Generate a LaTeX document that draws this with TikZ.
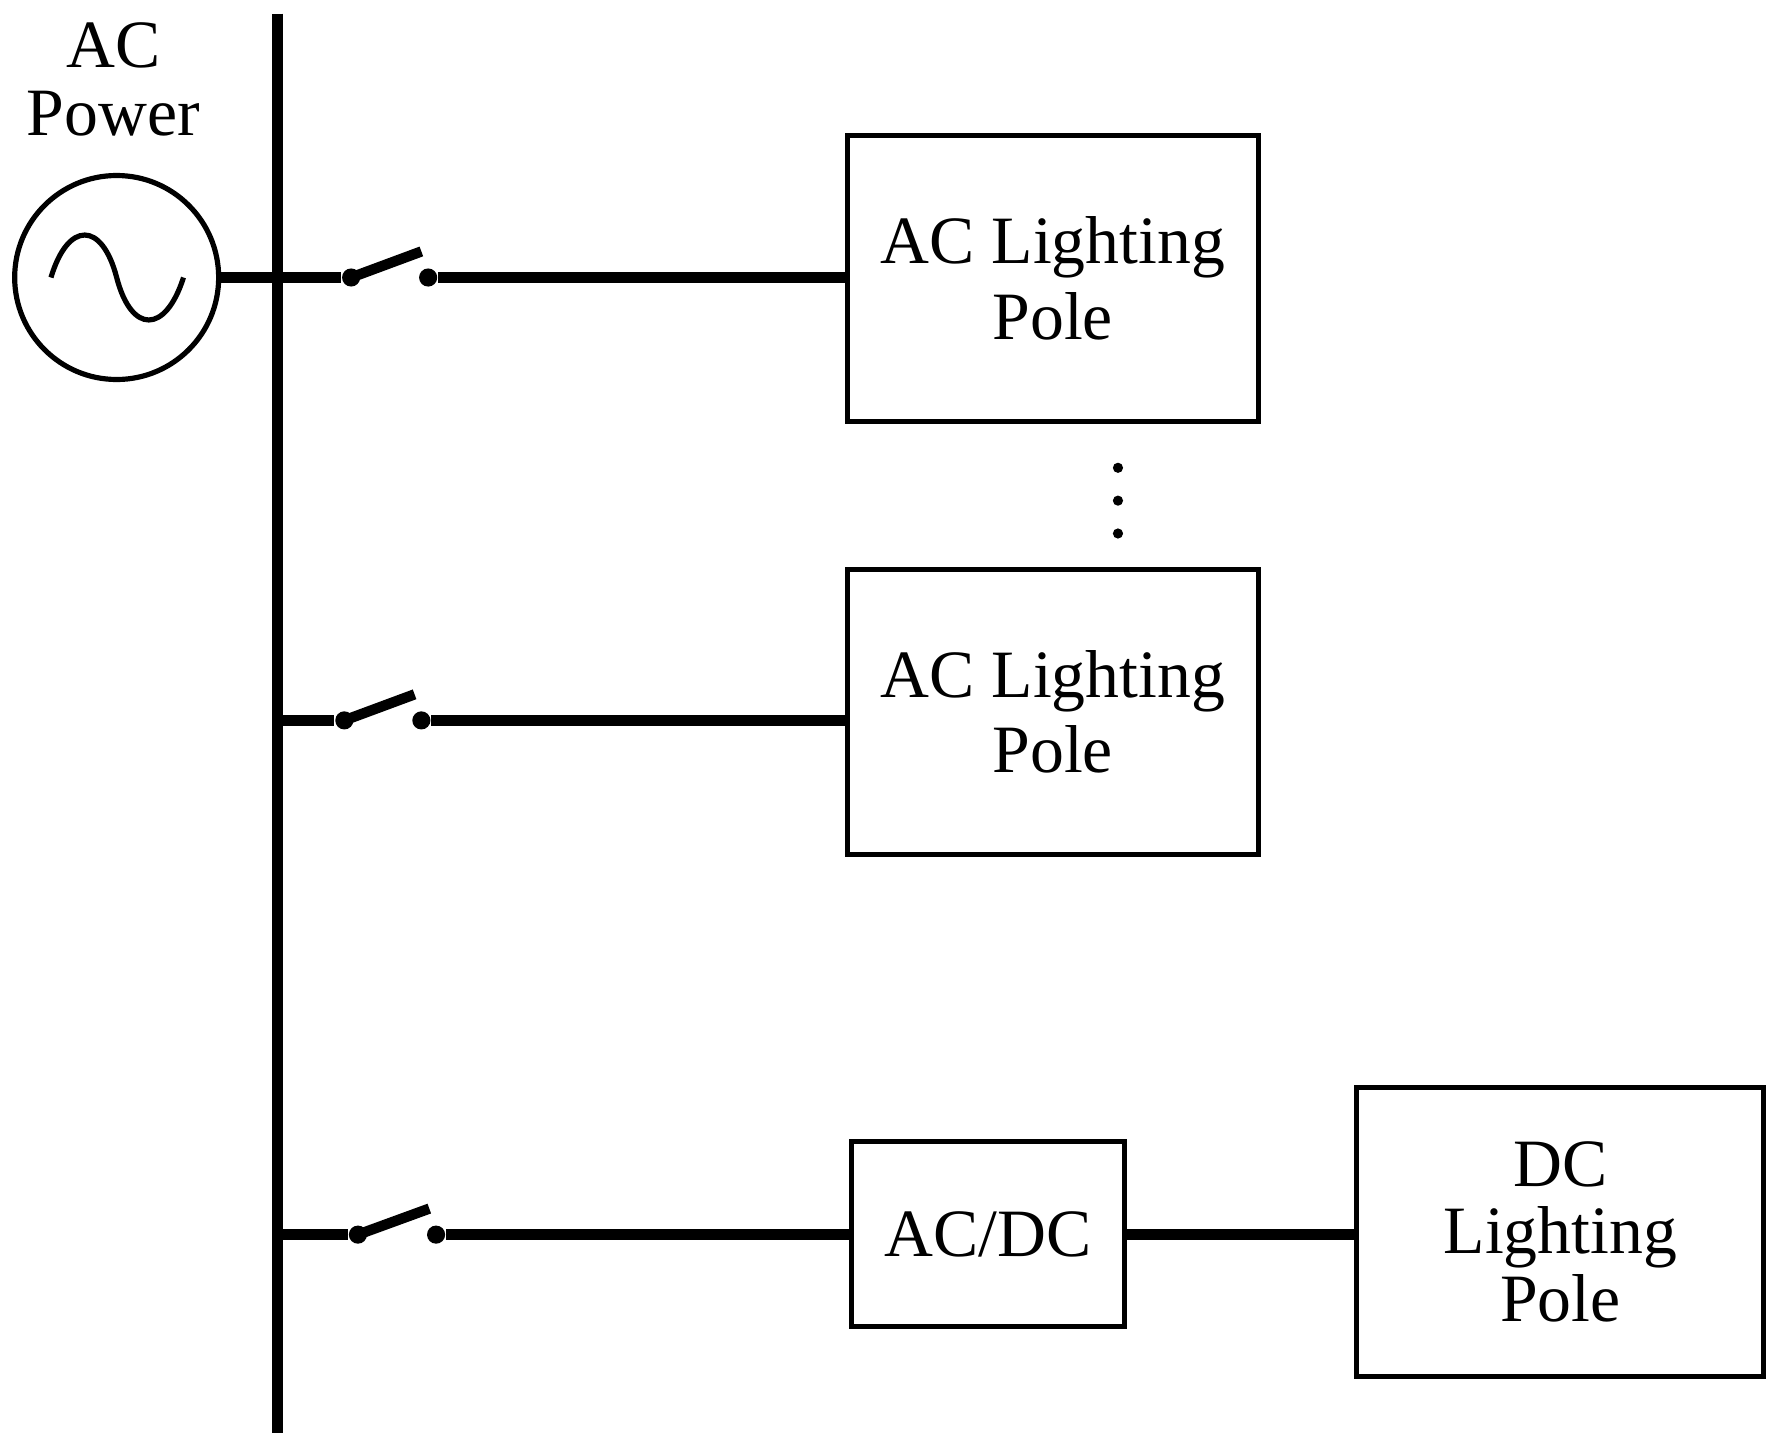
\documentclass[tikz,border=0pt]{standalone}
\usepackage{fontspec}
\setmainfont{Liberation Serif}
\begin{document}
\begin{tikzpicture}[x=0.01cm,y=-0.01cm,
 wire/.style={line width=2.6pt},
 box/.style={draw,line width=1.3pt,inner sep=0pt},
 lbl/.style={font=\fontsize{17}{21}\selectfont,align=center},
 dot/.style={circle,fill,inner sep=0pt,minimum size=0.16cm}]
\useasboundingbox (0,0) rectangle (1560,1270);
\draw[wire] (245,12) coordinate (bt) -- (245,1265) coordinate (bb);
\node[circle,draw,line width=1.3pt,minimum size=1.8cm] (src) at (103,245) {};
\draw[line width=1.3pt] (45,245) .. controls (60,195) and (90,195) .. (103,245) .. controls (116,295) and (146,295) .. (162,245);
\node[lbl] (acp) at (100,70) {AC\\[-4pt]Power};
% boxes
\node[box,minimum width=3.63cm,minimum height=2.52cm] (b1) at (929.5,246) {};
\node[lbl] at (b1) {AC Lighting\\[-2pt]Pole};
\node[box,minimum width=3.63cm,minimum height=2.51cm] (b2) at (929.5,628.5) {};
\node[lbl] at (b2) {AC Lighting\\[-2pt]Pole};
\node[box,minimum width=2.41cm,minimum height=1.63cm,lbl] (cv) at (872.5,1089.5) {AC/DC};
\node[box,minimum width=3.59cm,minimum height=2.55cm] (b3) at (1377.5,1087.5) {};
\node[lbl] at (b3) {DC\\[-4pt]Lighting\\[-4pt]Pole};
\foreach \y in {413,442,471} \fill (987,\y) circle (0.045cm);
% row1
\node[dot] (s1a) at (310,245) {}; \node[dot] (s1b) at (378,245) {};
\draw[wire] (src.east) -- (s1a); \draw[wire] (s1a.center) -- (372,222);
\draw[wire] (s1b) -- (s1b -| b1.west);
% row2
\node[dot] (s2a) at (304,636) {}; \node[dot] (s2b) at (372,636) {};
\coordinate (j2) at (245,636);
\draw[wire] (j2) -- (s2a); \draw[wire] (s2a.center) -- (366,613);
\draw[wire] (s2b) -- (s2b -| b2.west);
% row3
\node[dot] (s3a) at (316,1090) {}; \node[dot] (s3b) at (385,1090) {};
\coordinate (j3) at (245,1090);
\draw[wire] (j3) -- (s3a); \draw[wire] (s3a.center) -- (379,1067);
\draw[wire] (s3b) -- (s3b -| cv.west);
\draw[wire] (s3b -| cv.east) -- (s3b -| b3.west);
\end{tikzpicture}
\end{document}
